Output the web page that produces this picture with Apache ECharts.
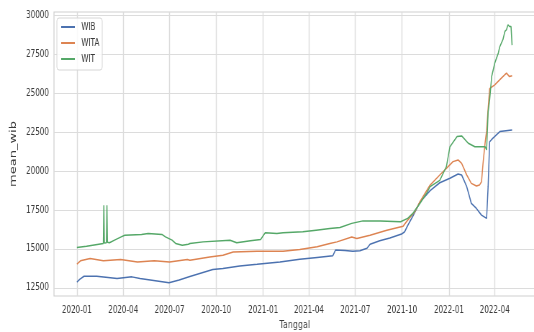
<!DOCTYPE html>
<html>
<head>
<meta charset="utf-8">
<script src="https://cdn.jsdelivr.net/npm/echarts@6/dist/echarts.min.js"></script>
<style>
  html, body { margin: 0; padding: 0; background: #ffffff; overflow: hidden; }
  #wrap { width: 534px; height: 332px; overflow: hidden; position: relative; }
  /* the figure is laid out wide and squeezed horizontally to 534px */
  #chart { width: 742px; height: 332px; transform: scaleX(0.71968); transform-origin: 0 0; }
</style>
</head>
<body>
<div id="wrap"><div id="chart"></div></div>
<script>
// Mean price per time zone (WIB / WITA / WIT), indexed by date
const seriesNames = ['WIB', 'WITA', 'WIT'];

const wibDates = ['2020-01-01','2020-01-07','2020-01-15','2020-02-09','2020-03-20','2020-04-18','2020-05-04','2020-06-20','2020-06-30','2020-07-20','2020-08-10','2020-09-24','2020-10-14','2020-11-16','2020-12-20','2021-02-03','2021-03-14','2021-04-17','2021-05-18','2021-05-23','2021-06-11','2021-06-26','2021-07-10','2021-07-24','2021-07-30','2021-08-18','2021-09-07','2021-09-30','2021-10-06','2021-10-12','2021-10-22','2021-11-05','2021-11-25','2021-12-14','2022-01-03','2022-01-19','2022-01-26','2022-02-05','2022-02-14','2022-02-24','2022-03-06','2022-03-16','2022-03-19','2022-03-22','2022-03-28','2022-04-11','2022-04-23','2022-05-05'];
const wibValues = [12870,13050,13240,13240,13090,13200,13100,12870,12820,13000,13220,13680,13740,13900,14010,14160,14330,14450,14560,14920,14900,14840,14880,15040,15300,15520,15700,15950,16100,16500,17100,18000,18750,19250,19540,19810,19750,19000,17925,17600,17170,16960,19000,21890,22110,22540,22600,22650];

const witaDates = ['2020-01-01','2020-01-08','2020-01-27','2020-02-22','2020-03-27','2020-04-29','2020-06-01','2020-07-01','2020-08-05','2020-08-10','2020-09-18','2020-10-14','2020-11-03','2020-12-20','2021-02-09','2021-03-14','2021-04-17','2021-05-12','2021-05-26','2021-06-24','2021-07-04','2021-07-30','2021-09-01','2021-10-03','2021-10-12','2021-10-26','2021-11-05','2021-11-25','2021-12-14','2021-12-27','2022-01-09','2022-01-19','2022-01-26','2022-02-05','2022-02-14','2022-02-24','2022-03-02','2022-03-06','2022-03-09','2022-03-13','2022-03-16','2022-03-19','2022-03-22','2022-04-01','2022-04-14','2022-04-24','2022-04-30','2022-05-05'];
const witaValues = [14015,14230,14380,14230,14320,14160,14230,14160,14320,14270,14485,14590,14805,14850,14850,14960,15130,15350,15450,15770,15670,15880,16200,16460,16850,17385,18030,19100,19750,20180,20610,20720,20500,19750,19210,19040,19100,19320,20500,21800,22600,24000,25300,25550,25980,26300,26080,26130];

const witDates = ['2020-01-01','2020-01-20','2020-02-22','2020-02-23','2020-02-24','2020-02-28','2020-02-29','2020-03-01','2020-03-05','2020-03-15','2020-03-28','2020-04-04','2020-05-07','2020-05-20','2020-06-16','2020-06-23','2020-07-06','2020-07-13','2020-07-26','2020-08-07','2020-08-10','2020-09-05','2020-10-28','2020-10-30','2020-11-10','2020-12-07','2020-12-27','2021-01-05','2021-01-28','2021-02-09','2021-03-20','2021-04-15','2021-05-12','2021-06-01','2021-06-24','2021-07-16','2021-08-19','2021-09-28','2021-10-12','2021-10-22','2021-11-05','2021-11-18','2021-11-25','2021-12-14','2021-12-27','2022-01-03','2022-01-17','2022-01-26','2022-02-08','2022-02-21','2022-03-13','2022-03-16','2022-03-19','2022-03-22','2022-03-26','2022-04-01','2022-04-08','2022-04-11','2022-04-17','2022-04-21','2022-04-24','2022-04-27','2022-04-30','2022-05-03','2022-05-05'];
const witValues = [15090,15170,15350,17800,15380,15400,17800,15420,15390,15560,15770,15880,15930,15990,15930,15770,15560,15350,15240,15300,15350,15450,15560,15650,15390,15520,15600,16030,15990,16030,16095,16200,16310,16380,16640,16800,16800,16740,16960,17280,17925,18570,19000,19400,20290,21570,22220,22260,21790,21570,21570,21360,23800,24600,26080,26940,27590,28010,28450,28980,29090,29410,29300,29300,28100];

const yTickValues = [12500, 15000, 17500, 20000, 22500, 25000, 27500, 30000];
const xTickLabels = ['2020-01','2020-04','2020-07','2020-10','2021-01','2021-04','2021-07','2021-10','2022-01','2022-04'];

const colors = ['#4c72b0', '#dd8452', '#55a868'];

// 'YYYY-MM-DD' or 'YYYY-MM' -> UTC timestamp
function ts(s) {
  const p = s.split('-').map(Number);
  return Date.UTC(p[0], p[1] - 1, p[2] || 1);
}
function pad2(n) { return (n < 10 ? '0' : '') + n; }
function pairs(dates, values) {
  return dates.map((d, i) => [ts(d), values[i]]);
}

const font = '"DejaVu Sans", sans-serif';
const textColor = '#3a3a3a';
const gridColor = '#dcdcdc';

const chart = echarts.init(document.getElementById('chart'), null, { renderer: 'canvas' });

const xTicks = xTickLabels.map(ts);

chart.setOption({
  animation: false,
  backgroundColor: '#ffffff',
  color: colors,
  grid: {
    left: 75, right: -2, top: 12, bottom: 36,
    outerBoundsMode: 'none',
    show: true, borderColor: '#cfcfcf', borderWidth: 1.2, backgroundColor: 'transparent'
  },
  legend: {
    data: seriesNames,
    orient: 'vertical',
    left: 79, top: 18,
    icon: 'rect',
    itemWidth: 19, itemHeight: 2,
    itemGap: 4,
    padding: [3, 4, 5, 6],
    backgroundColor: 'rgba(255,255,255,0.85)',
    borderColor: '#d6d6d6', borderWidth: 1, borderRadius: 3,
    textStyle: { fontFamily: font, fontSize: 10, color: textColor, lineHeight: 12, padding: [0, 0, 0, 4] }
  },
  xAxis: {
    // dates as timestamps on a numeric axis; ticks at quarter starts
    type: 'value',
    min: ts('2019-11-17'),
    max: ts('2022-06-20'),
    name: 'Tanggal',
    nameLocation: 'middle',
    nameGap: 21,
    nameTextStyle: { fontFamily: font, fontSize: 11, color: textColor },
    axisLine: { show: false },
    axisTick: { show: false, customValues: xTicks },
    splitLine: { show: true, lineStyle: { color: gridColor, width: 1.4 } },
    axisLabel: {
      customValues: xTicks,
      margin: 9,
      fontFamily: font, fontSize: 10, color: textColor,
      formatter: function (v) {
        const d = new Date(v);
        return d.getUTCFullYear() + '-' + pad2(d.getUTCMonth() + 1);
      }
    }
  },
  yAxis: {
    type: 'value',
    min: 11970,
    max: 30230,
    name: 'mean_wib',
    nameLocation: 'middle',
    nameRotate: 90,
    nameGap: 38,
    nameTextStyle: { fontFamily: font, fontSize: 13, color: textColor },
    axisLine: { show: false },
    axisTick: { show: false, customValues: yTickValues },
    splitLine: { show: true, lineStyle: { color: gridColor, width: 1 } },
    axisLabel: {
      customValues: yTickValues,
      margin: 7,
      fontFamily: font, fontSize: 10, color: textColor,
      formatter: function (v) { return String(v); }
    }
  },
  series: [
    { name: 'WIB', type: 'line', data: pairs(wibDates, wibValues), symbol: 'none', lineStyle: { width: 1.5, color: colors[0] } },
    { name: 'WITA', type: 'line', data: pairs(witaDates, witaValues), symbol: 'none', lineStyle: { width: 1.5, color: colors[1] } },
    { name: 'WIT', type: 'line', data: pairs(witDates, witValues), symbol: 'none', lineStyle: { width: 1.5, color: colors[2] } }
  ]
});
</script>
</body>
</html>
